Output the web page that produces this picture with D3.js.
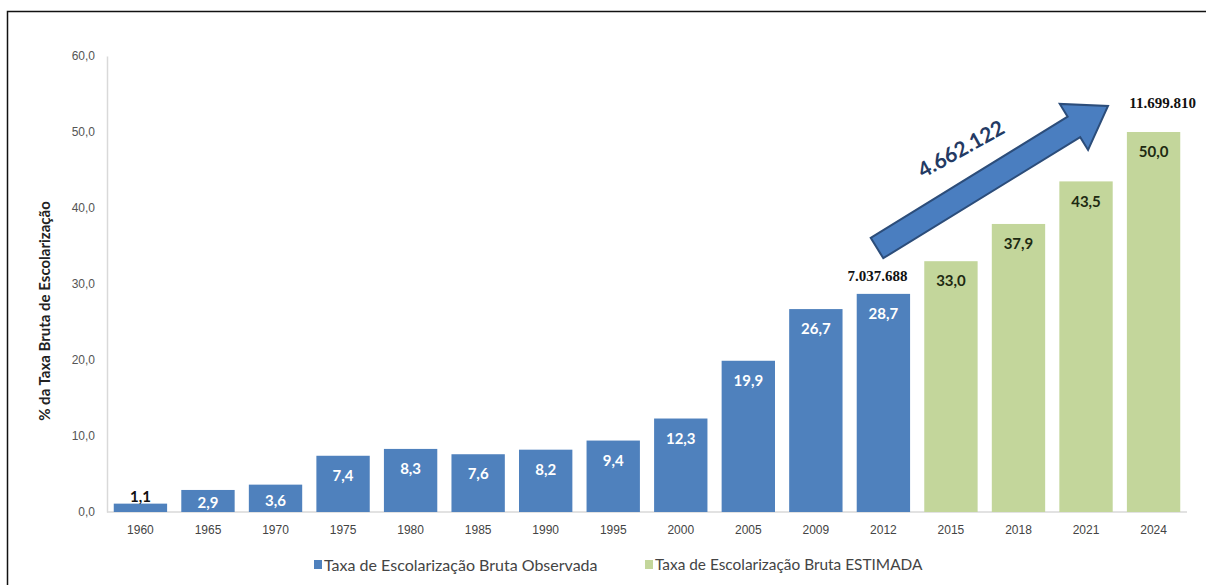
<!DOCTYPE html>
<html>
<head>
<meta charset="utf-8">
<script src="https://cdn.jsdelivr.net/npm/d3@7"></script>
<style>
  body { margin: 0; background: #fff; }
  svg { font-family: Lato, "Open Sans", sans-serif; }
</style>
</head>
<body>
<div id="chart"></div>
<script>
// chart data
const years = ["1960", "1965", "1970", "1975", "1980", "1985", "1990", "1995",
  "2000", "2005", "2009", "2012", "2015", "2018", "2021", "2024"];
const rates = [1.1, 2.9, 3.6, 7.4, 8.3, 7.6, 8.2, 9.4, 12.3, 19.9, 26.7, 28.7,
  33.0, 37.9, 43.5, 50.0];
const kinds = ["obs", "obs", "obs", "obs", "obs", "obs", "obs", "obs", "obs",
  "obs", "obs", "obs", "est", "est", "est", "est"];
const yTicks = [0, 10, 20, 30, 40, 50, 60];
const seriesNames = ["Taxa de Escolarização Bruta Observada",
  "Taxa de Escolarização Bruta ESTIMADA"];
const enrolment2012 = "7.037.688";
const enrolment2024 = "11.699.810";
const growth = "4.662.122";

const width = 1206, height = 585;
const colors = { obs: "#4f81bd", est: "#c3d69b" };
const fmt = (v) => v.toFixed(1).replace(".", ",");

const svg = d3.select("#chart").append("svg")
  .attr("width", width).attr("height", height);

// outer frame
svg.append("rect")
  .attr("x", 7.5).attr("y", 11.5).attr("width", 1210).attr("height", 600)
  .attr("fill", "none").attr("stroke", "#111").attr("stroke-width", 1.5);

const x = d3.scaleBand().domain(years).range([107, 1187]).paddingInner(0.21).paddingOuter(0.1);
const y = d3.scaleLinear().domain([0, 60]).range([512, 56]);

// y axis
const yAxis = svg.append("g").attr("transform", "translate(107,0)")
  .call(d3.axisLeft(y).tickValues(yTicks).tickSize(0).tickPadding(12).tickFormat(fmt));
yAxis.select(".domain").attr("stroke", "#d9d9d9").attr("stroke-width", 1.5);
yAxis.selectAll("text").attr("font-size", 12).attr("fill", "#555");

// x axis
const xAxis = svg.append("g").attr("transform", "translate(0,512)")
  .call(d3.axisBottom(x).tickSize(0).tickPadding(13));
xAxis.select(".domain").attr("stroke", "#d9d9d9").attr("stroke-width", 1.5)
  .attr("d", "M107,0H1187");
xAxis.selectAll("text").attr("font-size", 12).attr("fill", "#444");

// y title
svg.append("text")
  .attr("transform", "translate(50,311) rotate(-90)")
  .attr("text-anchor", "middle")
  .attr("font-size", 15).attr("font-weight", "bold").attr("fill", "#222")
  .text("% da Taxa Bruta de Escolarização");

// bars
const data = years.map((yr, i) => ({ year: yr, value: rates[i], kind: kinds[i] }));
svg.append("g").selectAll("rect").data(data).enter().append("rect")
  .attr("x", (d) => x(d.year))
  .attr("y", (d) => y(d.value))
  .attr("width", x.bandwidth())
  .attr("height", (d) => y(0) - y(d.value))
  .attr("fill", (d) => colors[d.kind]);

// value labels
svg.append("g").selectAll("text").data(data).enter().append("text")
  .attr("x", (d) => x(d.year) + x.bandwidth() / 2)
  .attr("y", (d) => {
    const top = y(d.value), h = y(0) - top;
    if (h < 15) return top - 7;
    return top + Math.min(20, h / 2 + 2);
  })
  .attr("dy", "0.35em")
  .attr("text-anchor", "middle")
  .attr("font-size", 15).attr("font-weight", "bold")
  .attr("fill", (d) => (y(0) - y(d.value) < 15 ? "#111" : d.kind === "obs" ? "#fff" : "#1e2a12"))
  .text((d) => fmt(d.value));

// enrolment totals
svg.append("text")
  .attr("x", x("2012") + x.bandwidth() / 2 - 6).attr("y", y(28.7) - 13)
  .attr("text-anchor", "middle").attr("font-size", 15).attr("font-weight", "bold")
  .attr("font-family", "'Liberation Serif', serif").attr("fill", "#111")
  .text(enrolment2012);
svg.append("text")
  .attr("x", x("2024") + x.bandwidth() / 2 + 9).attr("y", y(50) - 24)
  .attr("text-anchor", "middle").attr("font-size", 15).attr("font-weight", "bold")
  .attr("font-family", "'Liberation Serif', serif").attr("fill", "#111")
  .text(enrolment2024);

// growth arrow
const tail = [877, 248], tip = [1108, 106];
const len = Math.hypot(tip[0] - tail[0], tip[1] - tail[1]);
const ang = Math.atan2(tip[1] - tail[1], tip[0] - tail[0]) * 180 / Math.PI;
const sw = 12, hw = 27, hl = 40;
const arrow = svg.append("g")
  .attr("transform", `translate(${tail[0]},${tail[1]}) rotate(${ang})`);
arrow.append("path")
  .attr("d", `M0,${-sw}L${len - hl},${-sw}L${len - hl},${-hw}L${len},0L${len - hl},${hw}L${len - hl},${sw}L0,${sw}Z`)
  .attr("fill", "#4a7ec0").attr("stroke", "#2c4d7a").attr("stroke-width", 2);

svg.append("text")
  .attr("transform", "translate(961,149) rotate(-29)")
  .attr("text-anchor", "middle").attr("dy", "0.35em")
  .attr("font-size", 21).attr("font-weight", "bold").attr("fill", "#243a63")
  .text(growth);

// legend
const legend = svg.append("g").attr("transform", "translate(0,565)");
const legendX = [314, 645];
const legendSize = [16, 15.4];
["obs", "est"].forEach((k, i) => {
  legend.append("rect").attr("x", legendX[i]).attr("y", -5)
    .attr("width", 8).attr("height", 9).attr("fill", colors[k]);
  legend.append("text").attr("x", legendX[i] + 10).attr("y", 0).attr("dy", "0.35em")
    .attr("font-size", legendSize[i]).attr("fill", "#444").text(seriesNames[i]);
});
</script>
</body>
</html>
